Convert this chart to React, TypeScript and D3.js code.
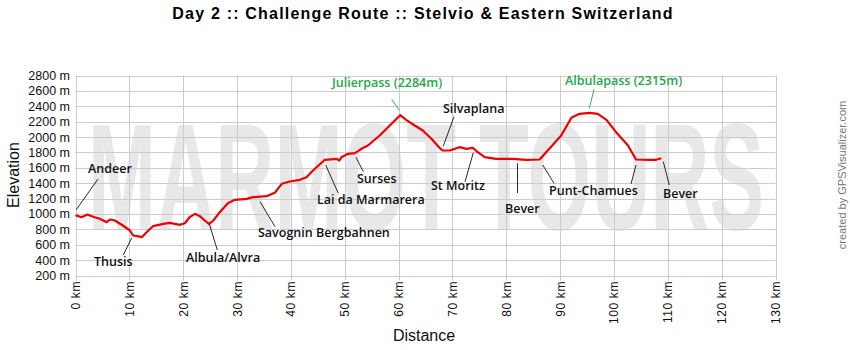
import React from 'react';
import * as d3 from 'd3';

const title = 'Day 2 :: Challenge Route :: Stelvio & Eastern Switzerland';

// distance in km / elevation in m
const distKm = [0, 1.1, 2.2, 3.4, 4.5, 5.8, 6.4, 7.3, 8.8, 10.1, 10.7, 11.5, 12.3, 13.2, 14.4, 16.3, 17.5, 19.4, 20.3, 21.2, 22.2, 23.1, 24.0, 24.8, 25.6, 26.8, 28.3, 29.6, 31.8, 33.0, 35.5, 37.0, 38.3, 39.8, 41.7, 42.9, 44.1, 46.3, 48.5, 49.0, 49.4, 50.6, 51.9, 53.1, 54.3, 56.5, 58.7, 60.3, 61.4, 63.0, 64.5, 66.1, 67.6, 68.2, 69.5, 71.3, 72.6, 73.8, 74.7, 76.0, 78.1, 81.2, 83.7, 86.2, 88.0, 90.2, 92.1, 93.6, 95.5, 97.0, 98.6, 100.4, 102.6, 104.1, 106.6, 107.8, 108.8];
const elevM = [985, 958, 993, 960, 937, 893, 928, 915, 850, 785, 720, 712, 698, 763, 841, 872, 885, 859, 880, 958, 1002, 971, 915, 872, 915, 1023, 1140, 1184, 1197, 1218, 1231, 1275, 1392, 1422, 1444, 1478, 1565, 1704, 1717, 1695, 1738, 1782, 1790, 1847, 1890, 2020, 2172, 2284, 2224, 2150, 2085, 1977, 1860, 1825, 1825, 1868, 1847, 1860, 1803, 1738, 1717, 1717, 1704, 1708, 1847, 2020, 2250, 2302, 2315, 2302, 2224, 2063, 1890, 1708, 1704, 1704, 1725];

const xTicks = d3.range(0, 131, 10);
const yTicks = d3.range(200, 2801, 200);

// place labels and where they sit; leader lines are [x1, y1, x2, y2] in px
const placeNames = ['Andeer', 'Thusis', 'Albula/Alvra', 'Savognin Bergbahnen', 'Lai da Marmarera', 'Surses', 'Julierpass (2284m)', 'Silvaplana', 'St Moritz', 'Bever', 'Punt-Chamues', 'Albulapass (2315m)', 'Bever'];
const placeTextPos = [[88, 173], [94, 266], [186, 262], [258, 237], [317, 204], [357, 183], [332, 87], [443, 113], [431, 190], [505, 213], [549, 195], [565, 85], [663, 198]];
const leaderLines = [
  [[76, 210, 98, 179]],
  [[131.7, 238, 123.3, 255]],
  [[209.3, 224, 217.3, 250]],
  [[260, 201.7, 275, 226.7]],
  [[325.7, 165, 338.3, 193.3]],
  [[356, 157.3, 363.3, 171.7]],
  [[391.7, 99.3, 399.3, 110]],
  [[454, 116.7, 443.3, 146]],
  [[473.3, 152.7, 465, 181.7]],
  [[517.5, 163.3, 517.5, 193]],
  [[542.7, 165, 554, 183.3], [636, 165, 631, 184]],
  [[594, 89.3, 589.3, 108.3]],
  [[663.3, 161.7, 669.3, 185]],
];
const passNames = ['Julierpass (2284m)', 'Albulapass (2315m)'];

export default function App() {
  const width = 850, height = 350;
  const x = d3.scaleLinear().domain([0, 130]).range([75.5, 775.5]);
  const y = d3.scaleLinear().domain([200, 2800]).range([275.5, 75.5]);
  const line = d3.line<number>()
    .x((d, i) => x(distKm[i]))
    .y(d => y(d));

  const grid = '#cccccc';
  return (
    <svg width={width} height={height} style={{position: 'absolute', left: 0, top: 0, background: '#fff'}}>
      <rect width={width} height={height} fill="#fff" />
      <text x={423} y={18.5} textAnchor="middle" fontFamily="Liberation Sans, Arial" fontWeight="bold" fontSize={16} letterSpacing={1.2}>{title}</text>

      {/* watermark */}
      <text x={88} y={230} textLength={676} lengthAdjust="spacingAndGlyphs" fontFamily="Liberation Sans, Arial" fontWeight="bold" fontSize={152} fill="#e8e8e8">MARMOT TOURS</text>

      {/* grid */}
      {yTicks.map(t => (
        <line key={'y' + t} x1={x(0)} x2={x(130)} y1={Math.round(y(t)) + 0.5} y2={Math.round(y(t)) + 0.5} stroke={grid} strokeWidth={1} />
      ))}
      {xTicks.map(t => (
        <line key={'x' + t} x1={Math.round(x(t)) + 0.5} x2={Math.round(x(t)) + 0.5} y1={y(2800)} y2={y(200) + 5} stroke={grid} strokeWidth={1} />
      ))}

      {yTicks.map(t => (
        <text key={'yl' + t} x={70} y={y(t) + 4.5} textAnchor="end" fontFamily="Liberation Sans, Arial" fontSize={12.5} fill="#111">{t + ' m'}</text>
      ))}
      {xTicks.map(t => (
        <text key={'xl' + t} transform={`translate(${x(t) + 4.5},${281}) rotate(-90)`} textAnchor="end" fontFamily="Liberation Sans, Arial" fontSize={12} letterSpacing={0.6} fill="#111">{t + ' km'}</text>
      ))}

      <text transform={`translate(${19},${175}) rotate(-90)`} textAnchor="middle" fontFamily="Liberation Sans, Arial" fontSize={16} fill="#111">Elevation</text>
      <text x={424} y={340.5} textAnchor="middle" fontFamily="Liberation Sans, Arial" fontSize={16} fill="#111">Distance</text>
      <text transform={`translate(${846},${175}) rotate(-90)`} textAnchor="middle" fontFamily="Liberation Sans, Arial" fontSize={11} fill="#777">created by GPSVisualizer.com</text>

      <path d={line(elevM) || ''} fill="none" stroke="#ee0000" strokeWidth={2.2} strokeLinejoin="round" />

      {placeNames.map((name, i) => {
        const green = passNames.includes(name);
        return (
          <g key={'p' + i}>
            {leaderLines[i].map((l, j) => (
              <line key={j} x1={l[0]} y1={l[1]} x2={l[2]} y2={l[3]} stroke={green ? '#1ea84a' : '#111'} strokeWidth={0.9} />
            ))}
            <text x={placeTextPos[i][0]} y={placeTextPos[i][1]} fontFamily="Open Sans, sans-serif" fontWeight={600} fontSize={12.5} fill={green ? '#1ea84a' : '#111'}>{name}</text>
          </g>
        );
      })}
    </svg>
  );
}
